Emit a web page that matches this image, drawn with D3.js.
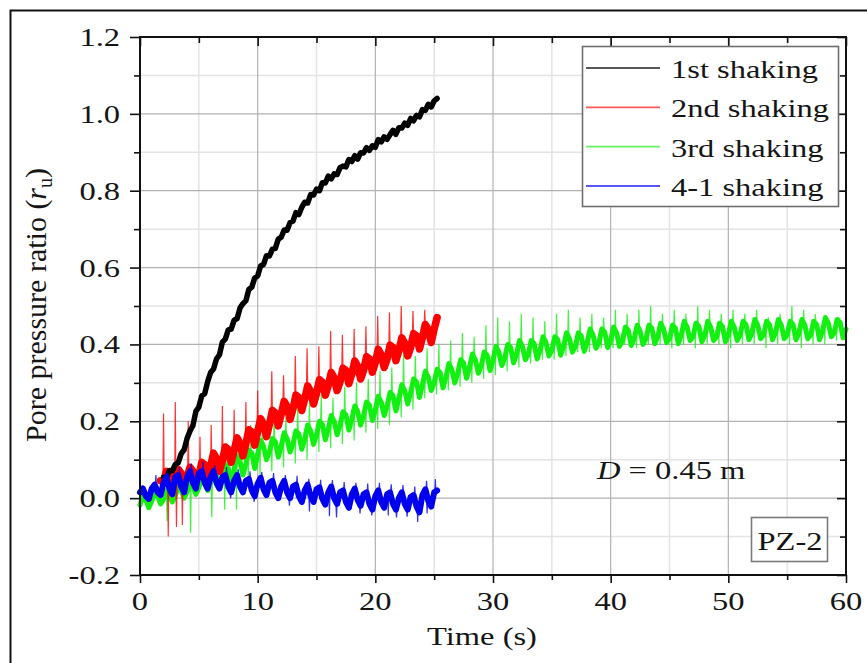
<!DOCTYPE html>
<html>
<head>
<meta charset="utf-8">
<script src="https://cdn.jsdelivr.net/npm/d3@7"></script>
<style>
  html, body { margin: 0; padding: 0; background: #ffffff; }
  svg { display: block; }
  text { font-family: "Liberation Serif", "Times New Roman", Times, "DejaVu Serif", serif; fill: #151515; }
</style>
</head>
<body>
<svg id="chart" width="867" height="663"></svg>
<script>
// ---------------------------------------------------------------
// Pore pressure ratio r_u at PZ-2 (D = 0.45 m) for four shakings
// ---------------------------------------------------------------

const seriesNames  = ["1st shaking", "2nd shaking", "3rd shaking", "4-1 shaking"];
const seriesColors = ["#000000", "#ff0000", "#11f011", "#0000ee"];

const timeTicks        = [0, 10, 20, 30, 40, 50, 60];
const timeTickLabels   = ["0", "10", "20", "30", "40", "50", "60"];
const timeMinorTicks   = [5, 15, 25, 35, 45, 55];
const ratioTicks       = [-0.2, 0.0, 0.2, 0.4, 0.6, 0.8, 1.0, 1.2];
const ratioTickLabels  = ["-0.2", "0.0", "0.2", "0.4", "0.6", "0.8", "1.0", "1.2"];
const ratioMinorTicks  = [-0.1, 0.1, 0.3, 0.5, 0.7, 0.9, 1.1];

// records are sampled every 0.25 s from their start time
const sampleStep = 0.25;

// 1st shaking, from t = 2.0 s
const firstStart = 2.0;
const firstShaking = [
  0.054, 0.053, 0.072, 0.071, 0.088, 0.092, 0.116, 0.126,
  0.155, 0.175, 0.189, 0.226, 0.237, 0.266, 0.272, 0.303,
  0.327, 0.336, 0.362, 0.373, 0.406, 0.414, 0.438, 0.440,
  0.463, 0.467, 0.495, 0.506, 0.514, 0.543, 0.549, 0.573,
  0.578, 0.604, 0.608, 0.631, 0.630, 0.648, 0.650, 0.674,
  0.679, 0.698, 0.697, 0.717, 0.721, 0.743, 0.738, 0.757,
  0.770, 0.768, 0.790, 0.789, 0.804, 0.800, 0.821, 0.820,
  0.838, 0.831, 0.844, 0.842, 0.860, 0.864, 0.862, 0.881,
  0.876, 0.891, 0.882, 0.899, 0.898, 0.912, 0.905, 0.917,
  0.913, 0.933, 0.927, 0.940, 0.934, 0.946, 0.957, 0.947,
  0.964, 0.963, 0.976, 0.970, 0.988, 0.982, 0.996, 0.992,
  1.011, 1.009, 1.025, 1.018, 1.034, 1.040
];

// 2nd shaking, from t = 1.75 s
const secondStart = 1.75;
const secondShaking = [
  0.045,
  0.045, 0.070, 0.060, 0.040,
  0.050, 0.075, 0.065, 0.045,
  0.055, 0.080, 0.070, 0.050,
  0.057, 0.093, 0.087, 0.053,
  0.083, 0.117, 0.103, 0.070,
  0.097, 0.133, 0.127, 0.093,
  0.123, 0.157, 0.143, 0.110,
  0.142, 0.178, 0.172, 0.138,
  0.173, 0.207, 0.193, 0.160,
  0.192, 0.228, 0.222, 0.188,
  0.218, 0.252, 0.238, 0.205,
  0.232, 0.268, 0.262, 0.228,
  0.258, 0.292, 0.278, 0.245,
  0.272, 0.308, 0.302, 0.268,
  0.293, 0.327, 0.313, 0.280,
  0.302, 0.338, 0.332, 0.298,
  0.323, 0.357, 0.343, 0.310,
  0.332, 0.368, 0.362, 0.328,
  0.353, 0.387, 0.373, 0.340,
  0.362, 0.398, 0.392, 0.358,
  0.383, 0.417, 0.403, 0.370,
  0.392, 0.428, 0.422, 0.388,
  0.418, 0.452, 0.438, 0.405,
  0.440, 0.470
];
const secondSpikes = [
  [2.0, 0.22], [3.0, 0.25], [4.1, 0.20], [5.1, 0.16], [6.05, 0.19],
  [7.0, 0.24], [8.0, 0.23], [9.0, 0.25], [10.0, 0.28], [11.2, 0.33],
  [12.2, 0.32], [13.2, 0.37], [14.2, 0.39], [15.2, 0.395], [16.2, 0.435],
  [17.2, 0.425], [18.2, 0.44], [19.2, 0.447], [20.2, 0.474], [21.2, 0.483],
  [22.2, 0.50], [23.2, 0.487], [24.2, 0.49],
  [2.4, -0.10], [3.1, -0.075], [3.6, -0.07]
];

// 3rd shaking, from t = 0 s
const thirdStart = 0;
const thirdShaking = [
  -0.018, 0.005, -0.005, -0.025,
  -0.008, 0.015, 0.005, -0.015,
  -0.003, 0.020, 0.010, -0.010,
  0.007, 0.030, 0.020, 0.000,
  0.017, 0.040, 0.030, 0.010,
  0.027, 0.050, 0.040, 0.020,
  0.040, 0.075, 0.060, 0.025,
  0.050, 0.085, 0.077, 0.037,
  0.075, 0.110, 0.095, 0.060,
  0.090, 0.125, 0.117, 0.077,
  0.115, 0.150, 0.135, 0.100,
  0.120, 0.155, 0.147, 0.107,
  0.135, 0.170, 0.155, 0.120,
  0.140, 0.175, 0.167, 0.127,
  0.155, 0.190, 0.175, 0.140,
  0.165, 0.200, 0.192, 0.152,
  0.180, 0.215, 0.200, 0.165,
  0.190, 0.225, 0.217, 0.177,
  0.205, 0.240, 0.225, 0.190,
  0.215, 0.250, 0.242, 0.202,
  0.230, 0.265, 0.250, 0.215,
  0.240, 0.275, 0.267, 0.227,
  0.260, 0.295, 0.280, 0.245,
  0.275, 0.310, 0.302, 0.262,
  0.295, 0.330, 0.315, 0.280,
  0.300, 0.335, 0.327, 0.287,
  0.315, 0.350, 0.335, 0.300,
  0.325, 0.360, 0.352, 0.312,
  0.340, 0.375, 0.360, 0.325,
  0.345, 0.380, 0.372, 0.332,
  0.360, 0.395, 0.380, 0.345,
  0.365, 0.400, 0.392, 0.352,
  0.375, 0.410, 0.395, 0.360,
  0.375, 0.410, 0.402, 0.362,
  0.385, 0.420, 0.405, 0.370,
  0.385, 0.420, 0.412, 0.372,
  0.395, 0.430, 0.415, 0.380,
  0.395, 0.430, 0.422, 0.382,
  0.405, 0.440, 0.425, 0.390,
  0.405, 0.440, 0.432, 0.392,
  0.410, 0.445, 0.430, 0.395,
  0.410, 0.445, 0.437, 0.397,
  0.415, 0.450, 0.435, 0.400,
  0.415, 0.450, 0.442, 0.402,
  0.420, 0.455, 0.440, 0.405,
  0.415, 0.450, 0.442, 0.402,
  0.425, 0.460, 0.445, 0.410,
  0.420, 0.455, 0.447, 0.407,
  0.425, 0.460, 0.445, 0.410,
  0.420, 0.455, 0.447, 0.407,
  0.425, 0.460, 0.445, 0.410,
  0.425, 0.460, 0.452, 0.412,
  0.430, 0.465, 0.450, 0.415,
  0.425, 0.460, 0.452, 0.412,
  0.430, 0.465, 0.450, 0.415,
  0.425, 0.460, 0.452, 0.412,
  0.430, 0.465, 0.450, 0.415,
  0.425, 0.460, 0.452, 0.412,
  0.435, 0.470, 0.455, 0.420,
  0.430, 0.465, 0.457, 0.417,
  0.440
];
const thirdSpikes = [
  [5.4, 0.09], [6.4, 0.11], [7.4, 0.14], [8.4, 0.16], [9.4, 0.19],
  [10.4, 0.20], [11.4, 0.22], [12.4, 0.21], [13.4, 0.24], [14.4, 0.25],
  [15.4, 0.27], [16.4, 0.26], [17.4, 0.29], [18.4, 0.30], [19.4, 0.31],
  [20.4, 0.33], [21.4, 0.34], [22.4, 0.38], [23.4, 0.37], [24.4, 0.39],
  [25.4, 0.40], [26.4, 0.41], [27.4, 0.43], [28.4, 0.42], [29.4, 0.45],
  [30.4, 0.47], [31.4, 0.46], [32.4, 0.48], [33.4, 0.47], [34.4, 0.46],
  [35.4, 0.48], [36.4, 0.49], [37.4, 0.47], [38.4, 0.48], [39.4, 0.47],
  [40.4, 0.49], [41.4, 0.48], [42.4, 0.49], [43.4, 0.50], [44.4, 0.48],
  [45.4, 0.49], [46.4, 0.48], [47.4, 0.50], [48.4, 0.49], [49.4, 0.48],
  [50.4, 0.49], [51.4, 0.48], [52.4, 0.49], [53.4, 0.47], [54.4, 0.48],
  [55.4, 0.50], [56.4, 0.49], [57.4, 0.48], [58.4, 0.47], [59.4, 0.47],
  [2.3, -0.06], [4.3, -0.09], [6.1, -0.05], [7.2, -0.03], [8.2, -0.03],
  [9.2, 0.04], [10.2, 0.06], [11.2, 0.07], [12.2, 0.08], [13.2, 0.09],
  [14.2, 0.10], [15.2, 0.12], [16.2, 0.13], [17.2, 0.14], [18.2, 0.15],
  [19.2, 0.17], [20.2, 0.18], [21.2, 0.19], [22.2, 0.21], [23.2, 0.23],
  [24.2, 0.26], [25.2, 0.27], [26.2, 0.28], [27.2, 0.29], [28.2, 0.30],
  [29.2, 0.31], [30.2, 0.32], [31.2, 0.33], [32.2, 0.34], [33.2, 0.35],
  [34.2, 0.36], [35.2, 0.36], [36.2, 0.37], [37.2, 0.38], [38.2, 0.38],
  [39.2, 0.39], [40.2, 0.39], [41.2, 0.40], [42.2, 0.39], [43.2, 0.40],
  [44.2, 0.40], [45.2, 0.39], [46.2, 0.40], [47.2, 0.39], [48.2, 0.40],
  [49.2, 0.40], [50.2, 0.39], [51.2, 0.40], [52.2, 0.40], [53.2, 0.39],
  [54.2, 0.40], [55.2, 0.40], [56.2, 0.39], [57.2, 0.40], [58.2, 0.40],
  [59.2, 0.41]
];

// 4-1 shaking, from t = 0 s
const fourthStart = 0;
const fourthShaking = [
  0.015, 0.025, 0.005, -0.002,
  0.025, 0.035, 0.015, 0.008,
  0.040, 0.055, 0.025, 0.010,
  0.055, 0.060, 0.030, 0.015,
  0.055, 0.070, 0.040, 0.025,
  0.065, 0.070, 0.040, 0.025,
  0.055, 0.070, 0.040, 0.025,
  0.055, 0.060, 0.030, 0.015,
  0.045, 0.060, 0.030, 0.015,
  0.045, 0.050, 0.020, 0.005,
  0.038, 0.053, 0.023, 0.008,
  0.040, 0.045, 0.015, 0.000,
  0.030, 0.045, 0.015, 0.000,
  0.030, 0.035, 0.005, -0.010,
  0.020, 0.035, 0.005, -0.010,
  0.023, 0.028, -0.002, -0.017,
  0.015, 0.030, 0.000, -0.015,
  0.015, 0.020, -0.010, -0.025,
  0.010, 0.025, -0.005, -0.020,
  0.010, 0.015, -0.015, -0.030,
  0.005, 0.020, -0.010, -0.025,
  0.010, 0.015, -0.015, -0.030,
  0.000, 0.015, -0.015, -0.030,
  0.003, 0.008, -0.022, -0.037,
  0.008, 0.023, -0.007, -0.022,
  0.015, 0.020
];
const fourthSpikes = [
  [1.35, 0.06], [2.35, 0.07], [3.35, 0.08], [4.35, 0.09], [5.35, 0.095],
  [6.35, 0.085], [7.35, 0.08], [8.35, 0.075], [9.35, 0.07], [10.35, 0.068],
  [11.35, 0.065], [12.35, 0.06], [13.35, 0.058], [14.35, 0.05], [15.35, 0.048],
  [16.35, 0.047], [17.35, 0.042], [18.35, 0.04], [19.35, 0.038], [20.35, 0.04],
  [21.35, 0.036], [22.35, 0.034], [23.35, 0.03], [24.35, 0.045], [25.1, 0.05],
  [7.7, 0.0], [9.7, -0.01], [12.7, -0.02], [14.4, -0.035], [16.1, -0.047],
  [16.7, -0.05], [18.7, -0.04], [19.7, -0.045], [21.1, -0.045], [21.8, -0.05],
  [22.7, -0.048], [23.6, -0.062], [24.4, -0.04]
];

// ---------------------------------------------------------------
const svg = d3.select("#chart");
const W = 867, H = 663;
const plot = { left: 140, right: 846, top: 37, bottom: 575 };
const HSTRETCH = 1.25;           // wide, low serif lettering
const FONT = 26;

const x = d3.scaleLinear().domain([0, 60]).range([plot.left, plot.right]);
const y = d3.scaleLinear().domain([-0.2, 1.2]).range([plot.bottom, plot.top]);

svg.append("rect").attr("width", W).attr("height", H).attr("fill", "#ffffff");

// outer figure frame (left and top edges visible)
svg.append("path")
  .attr("d", `M10.5,${H} L10.5,10.5 L${W},10.5`)
  .attr("fill", "none").attr("stroke", "#111").attr("stroke-width", 2);

// horizontal text with the wide letter shape
function wideText(parent, px, py, anchor, size) {
  return parent.append("g")
    .attr("transform", `translate(${px},${py}) scale(${HSTRETCH},1)`)
    .append("text")
    .attr("text-anchor", anchor)
    .attr("font-size", size || FONT);
}

// ---- grid ----
const grid = svg.append("g");
grid.selectAll(".vminor").data(timeMinorTicks).join("line")
  .attr("x1", d => x(d)).attr("x2", d => x(d))
  .attr("y1", plot.top).attr("y2", plot.bottom)
  .attr("stroke", "#e4e4e4").attr("stroke-width", 1.5);
grid.selectAll(".hminor").data(ratioMinorTicks).join("line")
  .attr("x1", plot.left).attr("x2", plot.right)
  .attr("y1", d => y(d)).attr("y2", d => y(d))
  .attr("stroke", "#e4e4e4").attr("stroke-width", 1.5);
grid.selectAll(".vmajor").data(timeTicks.slice(1, -1)).join("line")
  .attr("x1", d => x(d)).attr("x2", d => x(d))
  .attr("y1", plot.top).attr("y2", plot.bottom)
  .attr("stroke", "#b2b2b2").attr("stroke-width", 1.2);
grid.selectAll(".hmajor").data(ratioTicks.slice(1, -1)).join("line")
  .attr("x1", plot.left).attr("x2", plot.right)
  .attr("y1", d => y(d)).attr("y2", d => y(d))
  .attr("stroke", "#b2b2b2").attr("stroke-width", 1.2);

// ---- data ----
const series = [
  { name: seriesNames[0], color: seriesColors[0], start: firstStart,  values: firstShaking,  spikes: [],           width: 5.5 },
  { name: seriesNames[1], color: seriesColors[1], start: secondStart, values: secondShaking, spikes: secondSpikes, width: 7.5 },
  { name: seriesNames[2], color: seriesColors[2], start: thirdStart,  values: thirdShaking,  spikes: thirdSpikes,  width: 5.0 },
  { name: seriesNames[3], color: seriesColors[3], start: fourthStart, values: fourthShaking, spikes: fourthSpikes, width: 6.0 }
];
series.forEach(s => {
  s.points = s.values.map((v, i) => [s.start + i * sampleStep, v]);
});

const line = d3.line().x(d => x(d[0])).y(d => y(d[1]));
const dataLayer = svg.append("g");

// value of a record at the sample nearest to time t
function levelAt(s, t) {
  const i = Math.max(0, Math.min(s.values.length - 1, Math.round((t - s.start) / sampleStep)));
  return s.values[i];
}

[2, 1, 0, 3].forEach(k => {
  const s = series[k];
  const g = dataLayer.append("g");
  g.selectAll("path.spike").data(s.spikes).join("path")
    .attr("class", "spike")
    .attr("d", d => {
      const base = levelAt(s, d[0]);
      return line([[d[0] - 0.05, base], [d[0], d[1]], [d[0] + 0.05, base]]);
    })
    .attr("fill", "none")
    .attr("stroke", s.color)
    .attr("stroke-width", 1.2)
    .attr("opacity", 0.8);
  g.append("path")
    .datum(s.points)
    .attr("d", line)
    .attr("fill", "none")
    .attr("stroke", s.color)
    .attr("stroke-width", s.width)
    .attr("stroke-linejoin", "round")
    .attr("stroke-linecap", "round");
});

// ---- axes ----
function styleAxis(g) {
  g.select(".domain").remove();
  g.selectAll(".tick line").attr("stroke", "#111").attr("stroke-width", 1.6);
}
const noLabel = () => "";
svg.append("g").attr("transform", `translate(0,${plot.bottom})`)
  .call(d3.axisBottom(x).tickValues(timeTicks).tickSize(8).tickFormat(noLabel)).call(styleAxis);
svg.append("g").attr("transform", `translate(0,${plot.bottom})`)
  .call(d3.axisBottom(x).tickValues(timeMinorTicks).tickSize(5).tickFormat(noLabel)).call(styleAxis);
svg.append("g").attr("transform", `translate(0,${plot.top})`)
  .call(d3.axisTop(x).tickValues(timeTicks).tickSize(-9).tickFormat(noLabel)).call(styleAxis);
svg.append("g").attr("transform", `translate(0,${plot.top})`)
  .call(d3.axisTop(x).tickValues(timeMinorTicks).tickSize(-6).tickFormat(noLabel)).call(styleAxis);
svg.append("g").attr("transform", `translate(${plot.left},0)`)
  .call(d3.axisLeft(y).tickValues(ratioTicks).tickSize(10).tickFormat(noLabel)).call(styleAxis);
svg.append("g").attr("transform", `translate(${plot.left},0)`)
  .call(d3.axisLeft(y).tickValues(ratioMinorTicks).tickSize(6).tickFormat(noLabel)).call(styleAxis);
svg.append("g").attr("transform", `translate(${plot.right},0)`)
  .call(d3.axisRight(y).tickValues(ratioTicks).tickSize(-9).tickFormat(noLabel)).call(styleAxis);
svg.append("g").attr("transform", `translate(${plot.right},0)`)
  .call(d3.axisRight(y).tickValues(ratioMinorTicks).tickSize(-6).tickFormat(noLabel)).call(styleAxis);

svg.append("rect")
  .attr("x", plot.left).attr("y", plot.top)
  .attr("width", plot.right - plot.left).attr("height", plot.bottom - plot.top)
  .attr("fill", "none").attr("stroke", "#111").attr("stroke-width", 2);

// tick labels
timeTicks.forEach((v, i) => {
  wideText(svg, x(v), plot.bottom + 35, "middle").text(timeTickLabels[i]);
});
ratioTicks.forEach((v, i) => {
  wideText(svg, plot.left - 20, y(v) + 9, "end").text(ratioTickLabels[i]);
});

// axis titles
wideText(svg, 482, 645, "middle").text("Time (s)");

const yTitle = svg.append("g")
  .attr("transform", `translate(46,305) rotate(-90)`)
  .append("text")
  .attr("text-anchor", "middle")
  .attr("font-size", 30);
yTitle.append("tspan").text("Pore pressure ratio (");
yTitle.append("tspan").attr("font-style", "italic").text("r");
yTitle.append("tspan").attr("font-size", 20).attr("dy", 6).text("u");
yTitle.append("tspan").attr("dy", -6).text(")");

// ---- legend ----
const legend = svg.append("g");
legend.append("rect")
  .attr("x", 582.5).attr("y", 46.5).attr("width", 256).attr("height", 160)
  .attr("fill", "#ffffff").attr("stroke", "#6e6e6e").attr("stroke-width", 1.6);
const legendRowY = d3.scalePoint().domain(seriesNames).range([68, 186]);
series.forEach(s => {
  const cy = legendRowY(s.name);
  legend.append("line")
    .attr("x1", 586).attr("x2", 660).attr("y1", cy).attr("y2", cy)
    .attr("stroke", s.color).attr("stroke-width", 1.8).attr("opacity", 0.65);
  wideText(legend, 671, cy + 10, "start").text(s.name);
});

// ---- annotations ----
const dLabel = wideText(svg, 597, 479, "start");
dLabel.append("tspan").attr("font-style", "italic").text("D");
dLabel.append("tspan").text(" = 0.45 m");

svg.append("rect")
  .attr("x", 751.5).attr("y", 517.5).attr("width", 76).attr("height", 44)
  .attr("fill", "#ffffff").attr("stroke", "#7a7a7a").attr("stroke-width", 1.6);
wideText(svg, 790, 550, "middle").text("PZ-2");
</script>
</body>
</html>
